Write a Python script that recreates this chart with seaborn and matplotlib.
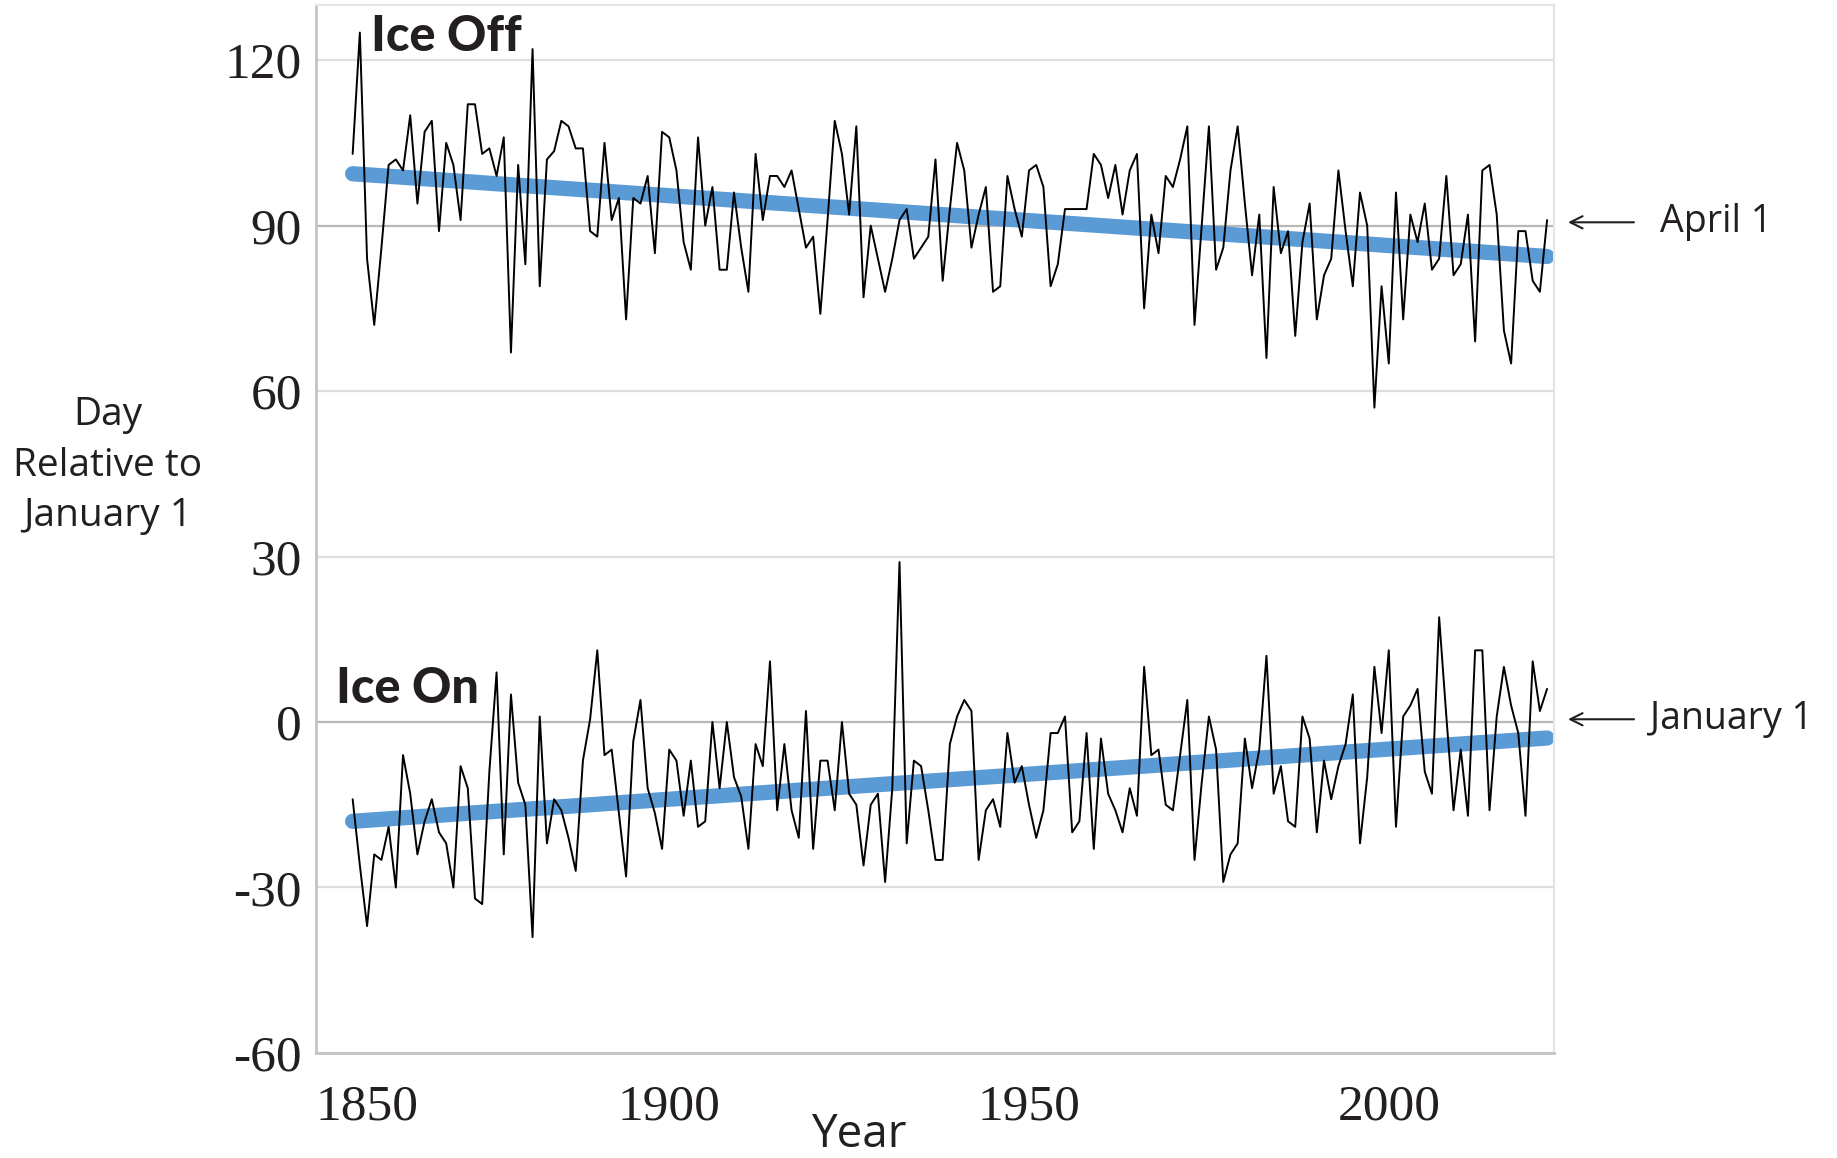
import matplotlib
matplotlib.use('Agg')
import matplotlib.pyplot as plt
import seaborn as sns
import pandas as pd

# Lake ice dates, day relative to January 1
years = list(range(1856, 2023))

ice_off = [103, 125, 84, 72, 86, 101, 102, 100, 110, 94,
           107, 109, 89, 105, 101, 91, 112, 112, 103, 104,
           99, 106, 67, 101, 83, 122, 79, 102, 103.5, 109,
           108, 104, 104, 89, 88, 105, 91, 95, 73, 95,
           94, 99, 85, 107, 106, 100, 87, 82, 106, 90,
           97, 82, 82, 96, 86, 78, 103, 91, 99, 99,
           97, 100, 93, 86, 88, 74, 91, 109, 103, 92,
           108, 77, 90, 84, 78, 84, 91, 93, 84, 86,
           88, 102, 80, 93, 105, 100, 86, 92, 97, 78,
           79, 99, 93, 88, 100, 101, 97, 79, 83, 93,
           93, 93, 93, 103, 101, 95, 101, 92, 100, 103,
           75, 92, 85, 99, 97, 102, 108, 72, 90, 108,
           82, 86, 100, 108, 94, 81, 92, 66, 97, 85,
           89, 70, 87, 94, 73, 81, 84, 100, 89, 79,
           96, 90, 57, 79, 65, 96, 73, 92, 87, 94,
           82, 84, 99, 81, 83, 92, 69, 100, 101, 92,
           71, 65, 89, 89, 80, 78, 91]

ice_on = [-14, -26, -37, -24, -25, -19, -30, -6, -13, -24,
          -18, -14, -20, -22, -30, -8, -12, -32, -33, -9,
          9, -24, 5, -11, -15, -39, 1, -22, -14, -16,
          -21, -27, -7, 0.5, 13, -6, -5, -16.5, -28, -3.5,
          4, -12, -16.5, -23, -5, -7, -17, -7, -19, -18,
          0, -12, 0, -10, -13.5, -23, -4, -8, 11, -16,
          -4, -16, -21, 2, -23, -7, -7, -16, 0, -13,
          -15, -26, -15, -13, -29, -12, 29, -22, -7, -8,
          -16, -25, -25, -4, 1, 4, 2, -25, -16, -14,
          -19, -2, -11, -8, -15, -21, -16, -2, -2, 1,
          -20, -18, -2, -23, -3, -13, -16, -20, -12, -17,
          10, -6, -5, -15, -16, -6, 4, -25, -11, 1,
          -5, -29, -24, -22, -3, -12, -5, 12, -13, -8,
          -18, -19, 1, -3, -20, -7, -14, -8, -4, 5,
          -22, -10, 10, -2, 13, -19, 1, 3, 6, -9,
          -13, 19, 1, -16, -5, -17, 13, 13, -16, 1,
          10, 3, -2, -17, 11, 2, 6]

# straight trend lines as drawn on the chart
trend_years = [1856, 2022]
ice_off_trend = [99.4, 84.4]
ice_on_trend = [-18.0, -2.9]

y_ticks = [-60, -30, 0, 30, 60, 90, 120]
y_labels = ['-60', '-30', '0', '30', '60', '90', '120']
x_labels = ['1850', '1900', '1950', '2000']

sns.set_theme(style='white')
plt.rcParams['font.family'] = ['Open Sans', 'DejaVu Sans']

ink = '#231f20'
blue = '#5b9bd5'

df = pd.DataFrame({'Year': years, 'Ice Off': ice_off, 'Ice On': ice_on})
trend_df = pd.DataFrame({'Year': trend_years, 'Ice Off': ice_off_trend, 'Ice On': ice_on_trend})

fig = plt.figure(figsize=(18.37, 11.58), dpi=100)
ax = fig.add_axes([0.172, 0.0907, 0.6737, 0.9050])

# grid lines, the two reference dates a bit darker
for y in y_ticks:
    col = '#b8b8b8' if y in (0, 90) else '#dedede'
    ax.axhline(y, color=col, lw=1.6, zorder=0)

sns.lineplot(data=trend_df, x='Year', y='Ice Off', color=blue, lw=11,
             solid_capstyle='round', ax=ax, zorder=2)
sns.lineplot(data=trend_df, x='Year', y='Ice On', color=blue, lw=11,
             solid_capstyle='round', ax=ax, zorder=2)
sns.lineplot(data=df, x='Year', y='Ice Off', color='black', lw=1.4, ax=ax, zorder=3)
sns.lineplot(data=df, x='Year', y='Ice On', color='black', lw=1.4, ax=ax, zorder=3)

ax.set_xlim(1850.9, 2022.9)
ax.set_ylim(-60, 130)
ax.set_xlabel('')
ax.set_ylabel('')

ax.set_yticks(y_ticks)
ax.set_yticklabels(y_labels, fontfamily=['Liberation Serif'], fontsize=37, color=ink)
ax.set_xticks([1850.9, 1900, 1950, 2000])
ax.set_xticklabels(x_labels, fontfamily=['Liberation Serif'], fontsize=37, color=ink)
ax.get_xticklabels()[0].set_ha('left')
ax.tick_params(axis='both', length=0)
ax.tick_params(axis='y', pad=10)
ax.tick_params(axis='x', pad=22)

for side in ['left', 'bottom']:
    ax.spines[side].set_color('#c4c4c4')
    ax.spines[side].set_linewidth(2)
for side in ['top', 'right']:
    ax.spines[side].set_color('#e4e4e4')
    ax.spines[side].set_linewidth(1.5)

# series names
ax.text(1858.5, 124.3, 'Ice Off', fontsize=35, fontweight='black', color=ink,
        ha='left', va='center', family=['Lato', 'DejaVu Sans'])
ax.text(1853.7, 6.0, 'Ice On', fontsize=35, fontweight='black', color=ink,
        ha='left', va='center', family=['Lato', 'DejaVu Sans'])

# reference date arrows on the right
tr = ax.get_yaxis_transform()
for yv, label, tx in [(90.6, 'April 1', 1.086), (0.5, 'January 1', 1.078)]:
    ax.annotate('', xy=(1.0117, yv), xytext=(1.065, yv), xycoords=tr,
                arrowprops=dict(arrowstyle='->', color=ink, lw=1.5,
                                mutation_scale=22, shrinkA=0, shrinkB=0),
                annotation_clip=False)
    ax.text(tx, yv, label, transform=tr, ha='left', va='center',
            fontsize=27, color=ink)

fig.text(0.0588, 0.598, 'Day\nRelative to\nJanuary 1', ha='center', va='center',
         fontsize=28, linespacing=1.42, color=ink)
fig.text(0.4676, 0.0195, 'Year', ha='center', va='center', fontsize=33, color=ink)

fig.savefig('out.png', dpi=100, facecolor='white')
